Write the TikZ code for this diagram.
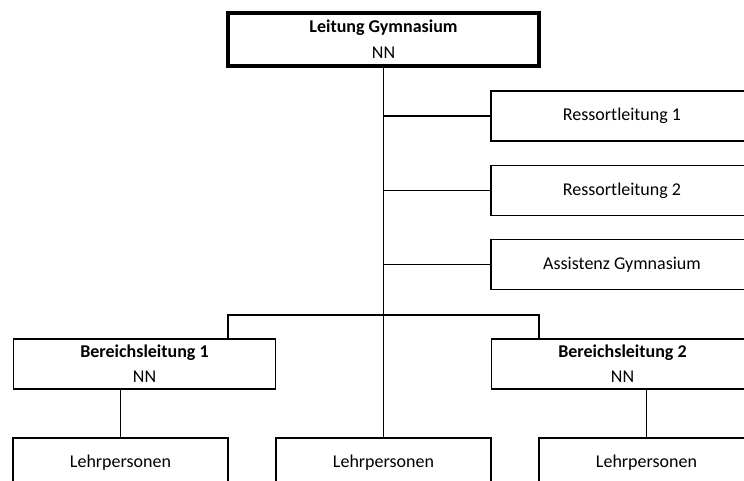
\documentclass[tikz,border=0pt]{standalone}
\usepackage{fontspec}
\setmainfont{Carlito}
\usepackage{tikz}
\usetikzlibrary{positioning, calc}

\begin{document}
\begin{tikzpicture}[
    x=1pt, y=-1pt,
    box/.style={rectangle, draw, line width=1.5pt, outer sep=0pt, inner sep=2pt, minimum height=50pt, align=center, font=\fontsize{18}{25}\selectfont},
    headbox/.style={box, line width=3.5pt, minimum width=311pt, minimum height=53pt, inner sep=0pt, font=\fontsize{18}{26}\selectfont},
    wide/.style={box, minimum width=262pt},
    small/.style={box, minimum width=215pt},
    link/.style={line width=1.5pt}
]
\useasboundingbox (0,0) rectangle (744,481);
\clip (0,0) rectangle (744,481);

% Leitung
\node[headbox] (leitung) at (383.5, 39.5) {\textbf{Leitung Gymnasium}\\NN};

% Stabsstellen
\node[wide] (ressort1) at (622, 116) {Ressortleitung 1};
\node[wide] (ressort2) at (622, 190.5) {Ressortleitung 2};
\node[wide] (assistenz) at (622, 264.5) {Assistenz Gymnasium};

% Bereiche
\node[wide] (bereich1) at (144.5, 364) {\textbf{Bereichsleitung 1}\\NN};
\node[wide] (bereich2) at (622.5, 364) {\textbf{Bereichsleitung 2}\\NN};

% Lehrpersonen
\node[small, anchor=north] (lehr1) at (120.5, 438) {Lehrpersonen};
\node[small, anchor=north] (lehr2) at (383.5, 438) {Lehrpersonen};
\node[small, anchor=north] (lehr3) at (646.5, 438) {Lehrpersonen};

\coordinate (busl) at (228, 315);
\coordinate (busr) at (539, 315);

% Linien
\draw[link] (leitung.south) -- (lehr2.north);
\foreach \n in {ressort1, ressort2, assistenz}
    \draw[link] (leitung.south |- \n.west) -- (\n.west);
\draw[link] (busl |- bereich1.north) -- (busl) -- (busr) -- (busr |- bereich2.north);
\draw[link] (lehr1.north |- bereich1.south) -- (lehr1.north);
\draw[link] (lehr3.north |- bereich2.south) -- (lehr3.north);

\end{tikzpicture}
\end{document}
